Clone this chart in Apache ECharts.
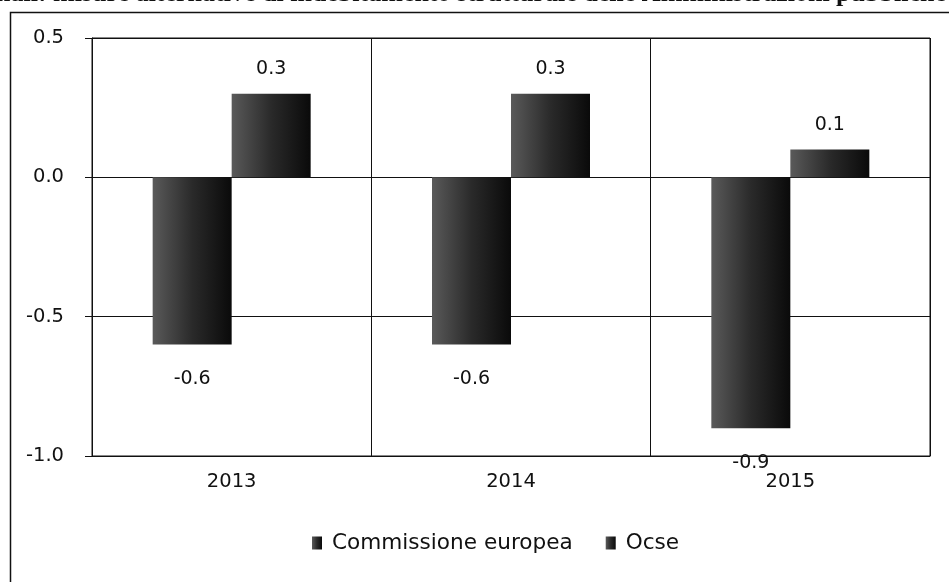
<!DOCTYPE html>
<html>
<head>
<meta charset="utf-8">
<script src="https://cdn.jsdelivr.net/npm/echarts@6/dist/echarts.min.js"></script>
<style>
html,body{margin:0;padding:0;background:#fff;}
#c{width:949px;height:582px;}
</style>
</head>
<body>
<div id="c"></div>
<script>
const categories = ['2013', '2014', '2015'];
const commissioneEuropea = [-0.6, -0.6, -0.9];
const ocse = [0.3, 0.3, 0.1];
const seriesNames = ['Commissione europea', 'Ocse'];
const yTicks = { min: -1.0, max: 0.5, interval: 0.5 };
const titleText = 'nali: misure alternative di indebitamento strutturale delle Amministrazioni pubbliche';

const chart = echarts.init(document.getElementById('c'), null, { renderer: 'canvas' });
const FONT = 'DejaVu Sans';

function barFill() {
  return new echarts.graphic.LinearGradient(0, 0, 1, 0, [
    { offset: 0, color: '#5a5a5a' },
    { offset: 0.5, color: '#2a2a2a' },
    { offset: 1, color: '#0a0a0a' }
  ]);
}

function makeSeries(name, values, dist) {
  return {
    name: name,
    type: 'bar',
    barWidth: 79,
    barGap: '0%',
    data: values,
    itemStyle: { color: barFill() },
    label: {
      show: true,
      position: 'outside',
      distance: dist,
      fontFamily: FONT,
      fontSize: 19,
      color: '#111',
      formatter: p => p.value.toFixed(1)
    }
  };
}

chart.setOption({
  animation: false,
  backgroundColor: '#fff',
  graphic: [
    {
      type: 'rect',
      left: 8, top: 10,
      shape: { width: 1200, height: 900 },
      style: { fill: 'none', stroke: '#111', lineWidth: 1.5 },
      silent: true
    },
    {
      type: 'text',
      left: -4, top: -19,
      style: {
        text: titleText,
        font: 'bold 26px "Liberation Serif"',
        fill: '#111'
      },
      silent: true
    }
  ],
  legend: {
    data: seriesNames,
    left: 307, top: 527,
    itemWidth: 10, itemHeight: 13,
    itemGap: 33,
    icon: 'rect',
    textStyle: { fontFamily: FONT, fontSize: 21.6, color: '#111', padding: [0, 0, 0, 5] }
  },
  grid: {
    left: 92, right: 19, top: 38, bottom: 126,
    show: true, borderColor: '#111', borderWidth: 1
  },
  xAxis: {
    type: 'category',
    data: categories,
    axisLine: { onZero: false, lineStyle: { color: '#111', width: 1 } },
    axisTick: { show: false },
    splitLine: { show: true, lineStyle: { color: '#111', width: 1 } },
    axisLabel: { fontFamily: FONT, fontSize: 19.5, color: '#111', margin: 16 }
  },
  yAxis: {
    type: 'value',
    min: yTicks.min, max: yTicks.max, interval: yTicks.interval,
    axisLine: { show: true, lineStyle: { color: '#111', width: 1 } },
    axisTick: { show: true, length: 7, lineStyle: { color: '#111' } },
    splitLine: { show: true, lineStyle: { color: '#111', width: 1 } },
    axisLabel: {
      fontFamily: FONT, fontSize: 19.5, color: '#111', margin: 28,
      formatter: v => v.toFixed(1)
    }
  },
  series: [
    makeSeries(seriesNames[0], commissioneEuropea, 25),
    makeSeries(seriesNames[1], ocse, 15)
  ]
});
</script>
</body>
</html>
